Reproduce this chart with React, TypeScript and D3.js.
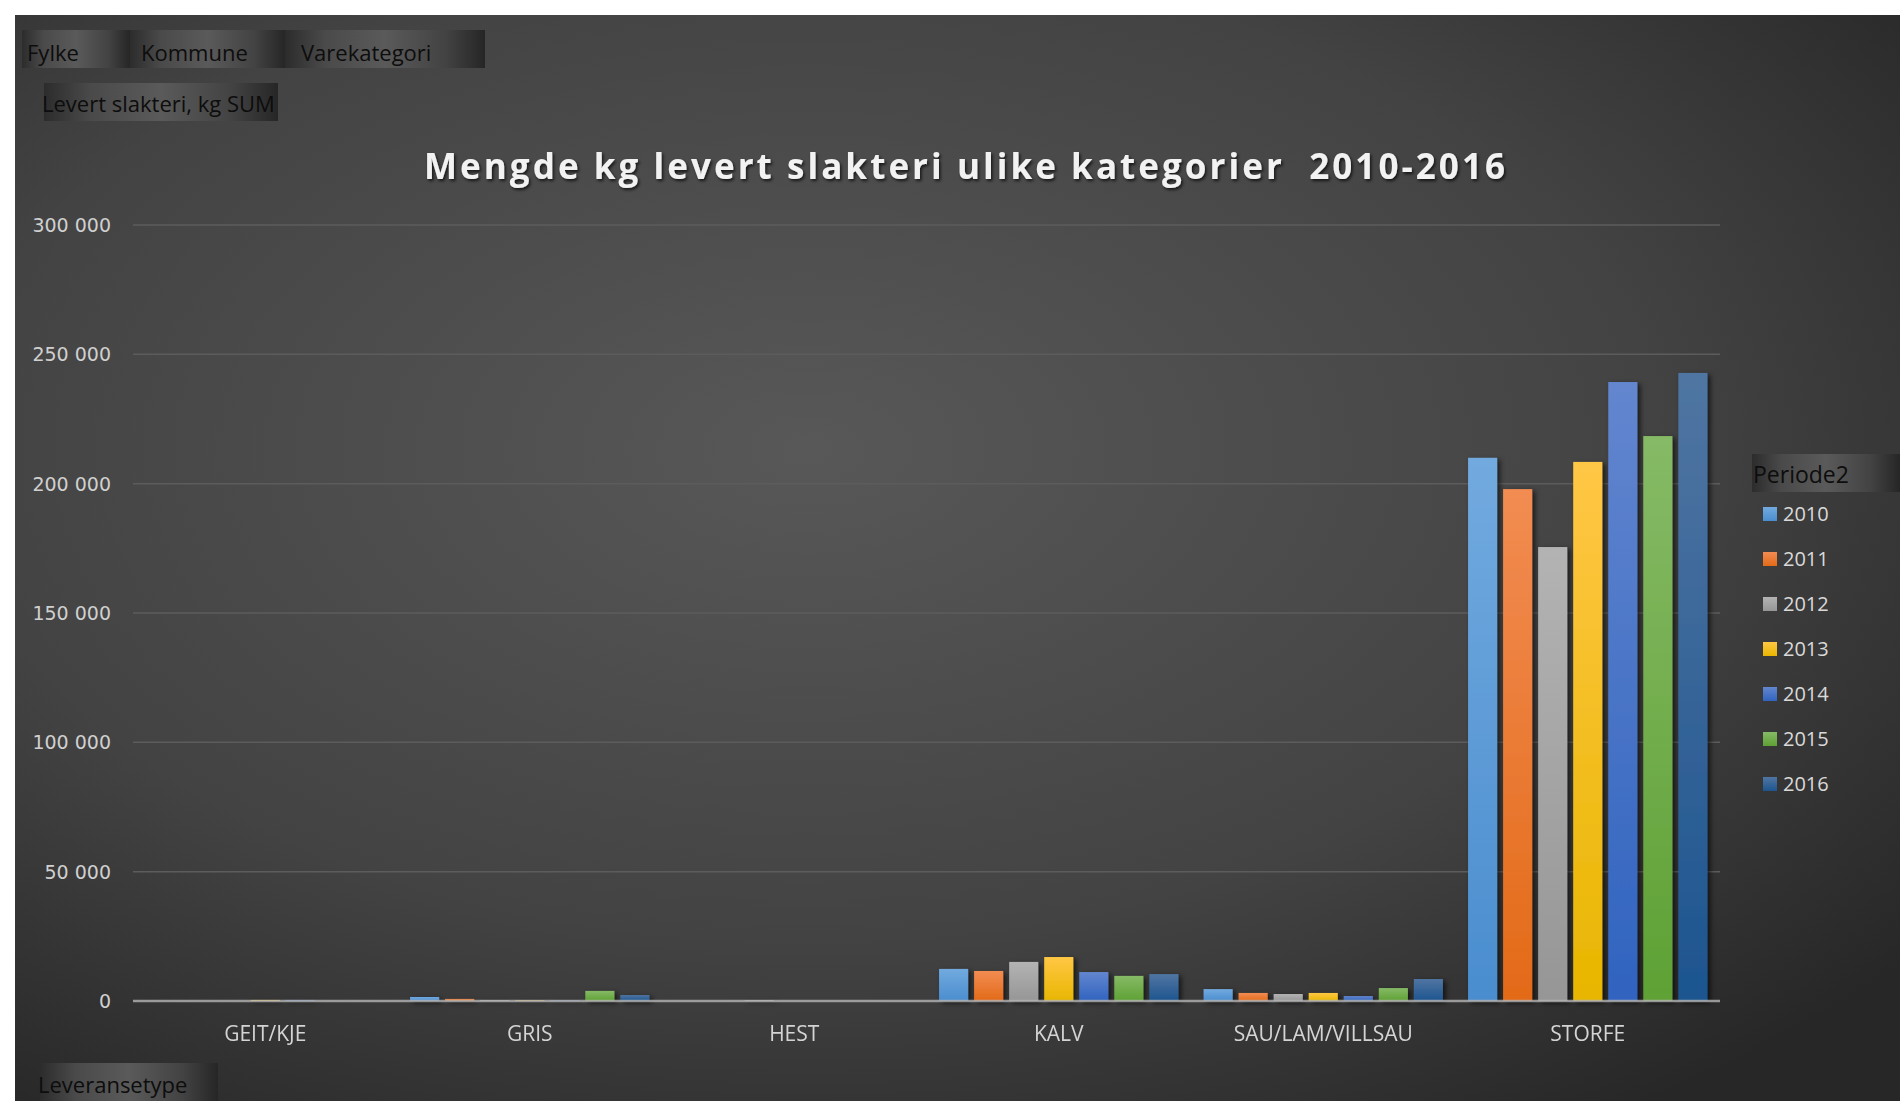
import React from "react";
import * as d3 from "d3";

const categories = ["GEIT/KJE", "GRIS", "HEST", "KALV", "SAU/LAM/VILLSAU", "STORFE"];
const years = ["2010", "2011", "2012", "2013", "2014", "2015", "2016"];

// kg levert per year, one value per category (same order as categories)
const v2010 = [0, 1550, 0, 12400, 4600, 210000];
const v2011 = [0, 800, 0, 11600, 3100, 197900];
const v2012 = [0, 300, 300, 15100, 2700, 175500];
const v2013 = [400, 300, 0, 17000, 3100, 208400];
const v2014 = [400, 300, 0, 11200, 1900, 239300];
const v2015 = [0, 3900, 0, 9700, 5000, 218400];
const v2016 = [0, 2300, 0, 10400, 8500, 242800];
const seriesValues = [v2010, v2011, v2012, v2013, v2014, v2015, v2016];

const yTicks = [0, 50000, 100000, 150000, 200000, 250000, 300000];

const topButtons = ["Fylke", "Kommune", "Varekategori"];

// top / bottom gradient colours per year
const colors = [
  ["#72aadf", "#4a8dcf"],
  ["#f28c52", "#e36a18"],
  ["#b3b3b3", "#969696"],
  ["#ffc745", "#e8b600"],
  ["#6386cf", "#3063bf"],
  ["#86ba66", "#5ea134"],
  ["#5075a2", "#1d558f"],
];

const W = 1900;
const H = 1101;
const left = 133;
const right = 1720;
const top = 225;
const bottom = 1001;

const fmt = d3.formatLocale({
  decimal: ",",
  thousands: " ",
  grouping: [3],
  currency: ["", ""],
}).format(",");

function Button({ x, y, w, h, id }: { x: number; y: number; w: number; h: number; id: string }) {
  return (
    <>
      <defs>
        <linearGradient id={id} x1="0" x2="1" y1="0" y2="0">
          <stop offset="0%" stopColor="#2c2c2c" />
          <stop offset="20%" stopColor="#4a4a4a" />
          <stop offset="50%" stopColor="#5a5a5a" />
          <stop offset="80%" stopColor="#434343" />
          <stop offset="100%" stopColor="#262626" />
        </linearGradient>
      </defs>
      <rect x={x} y={y} width={w} height={h} fill={`url(#${id})`} />
    </>
  );
}

export default function App() {
  const x0 = d3
    .scaleBand<string>()
    .domain(categories)
    .range([left, right])
    .paddingInner(0.095)
    .paddingOuter(0.0475);

  const x1 = d3
    .scaleBand<string>()
    .domain(years)
    .range([0, x0.bandwidth()])
    .paddingInner(0.17);

  const y = d3.scaleLinear().domain([0, 300000]).range([bottom, top]);

  const btnFont = "'Open Sans', sans-serif";

  return (
    <svg
      width={W}
      height={H}
      style={{ position: "absolute", left: 0, top: 0, display: "block" }}
    >
      <defs>
        <radialGradient id="bg" cx="0.42" cy="0.4" r="0.75" fx="0.42" fy="0.4">
          <stop offset="0%" stopColor="#585858" />
          <stop offset="60%" stopColor="#434343" />
          <stop offset="100%" stopColor="#272727" />
        </radialGradient>
        {colors.map((c, i) => (
          <linearGradient key={i} id={`g${i}`} x1="0" x2="0" y1="0" y2="1">
            <stop offset="0%" stopColor={c[0]} />
            <stop offset="100%" stopColor={c[1]} />
          </linearGradient>
        ))}
        <filter id="shadow" x="-30%" y="-10%" width="160%" height="120%">
          <feDropShadow dx="3" dy="2" stdDeviation="2.5" floodColor="#000" floodOpacity="0.6" />
        </filter>
        <filter id="tshadow" x="-5%" y="-30%" width="110%" height="160%">
          <feDropShadow dx="1.5" dy="2" stdDeviation="1.5" floodColor="#000" floodOpacity="0.7" />
        </filter>
      </defs>

      <rect x={0} y={0} width={W} height={H} fill="#ffffff" />
      <rect x={15} y={15} width={W - 15} height={H - 15} fill="url(#bg)" />

      {/* field buttons */}
      <Button x={22} y={30} w={108} h={38} id="b0" />
      <Button x={130} y={30} w={155} h={38} id="b1" />
      <Button x={285} y={30} w={200} h={38} id="b2" />
      {topButtons.map((t, i) => (
        <text
          key={t}
          x={[27, 141, 301][i]}
          y={61}
          fontFamily={btnFont}
          fontSize={22}
          fill="#0d0d0d"
        >
          {t}
        </text>
      ))}
      <Button x={44} y={83} w={234} h={38} id="b3" />
      <text x={42} y={112} fontFamily={btnFont} fontSize={22} fill="#0d0d0d">
        Levert slakteri, kg SUM
      </text>
      <Button x={40} y={1063} w={178} h={40} id="b4" />
      <text x={38} y={1093} fontFamily={btnFont} fontSize={22} fill="#0d0d0d">
        Leveransetype
      </text>
      <Button x={1752} y={454} w={148} h={38} id="b5" />
      <text x={1753} y={483} fontFamily={btnFont} fontSize={23} fill="#0d0d0d">
        Periode2
      </text>

      {/* title */}
      <text
        x={(424 + 1505) / 2}
        y={179}
        textAnchor="middle"
        fontFamily={btnFont}
        fontWeight="bold"
        fontSize={35}
        fill="#f2f2f2"
        textLength={1081}
        lengthAdjust="spacing"
        xmlSpace="preserve"
        style={{ whiteSpace: "pre" }}
        filter="url(#tshadow)"
      >
        {"Mengde kg levert slakteri ulike kategorier  2010-2016"}
      </text>

      {/* gridlines */}
      {yTicks.slice(1).map((t) => (
        <line
          key={t}
          x1={left}
          x2={right}
          y1={y(t)}
          y2={y(t)}
          stroke="#5c5c5c"
          strokeWidth={1.5}
        />
      ))}
      {yTicks.map((t) => (
        <text
          key={t}
          x={111}
          y={y(t)}
          dy="0.36em"
          textAnchor="end"
          fontFamily="'DejaVu Sans', sans-serif"
          fontSize={19}
          fill="#d0d0d0"
        >
          {fmt(t)}
        </text>
      ))}

      {/* bars */}
      <g filter="url(#shadow)">
        {categories.map((c, ci) => (
          <g key={c} transform={`translate(${x0(c)},0)`}>
            {years.map((yr, si) => {
              const v = seriesValues[si][ci];
              if (!v) return null;
              return (
                <rect
                  key={yr}
                  x={x1(yr)}
                  y={y(v)}
                  width={x1.bandwidth()}
                  height={bottom - y(v)}
                  fill={`url(#g${si})`}
                />
              );
            })}
          </g>
        ))}
      </g>

      {/* axis line */}
      <line
        x1={left}
        x2={right}
        y1={bottom}
        y2={bottom}
        stroke="#b4b4b4"
        strokeOpacity={0.8}
        strokeWidth={2.5}
      />

      {categories.map((c) => (
        <text
          key={c}
          x={(x0(c) as number) + x0.bandwidth() / 2}
          y={1041}
          textAnchor="middle"
          fontFamily={btnFont}
          fontSize={21}
          fill="#d4d4d4"
        >
          {c}
        </text>
      ))}

      {/* legend */}
      {years.map((yr, i) => (
        <g key={yr} transform={`translate(1763,${514 + i * 45})`}>
          <rect x={0} y={-7} width={14} height={14} fill={`url(#g${i})`} />
          <text x={20} y={0} dy="0.36em" fontFamily={btnFont} fontSize={20} fill="#d9d9d9">
            {yr}
          </text>
        </g>
      ))}
    </svg>
  );
}
